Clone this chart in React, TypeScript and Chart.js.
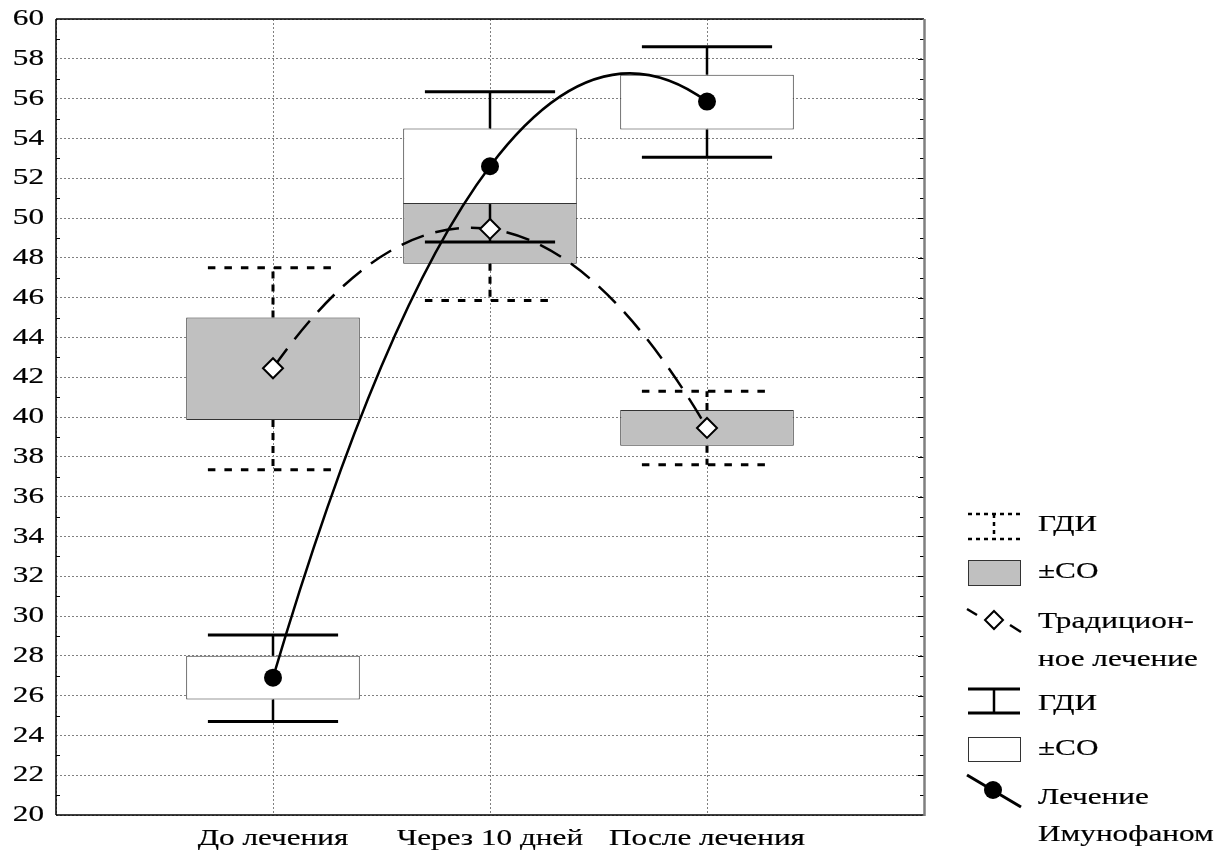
import React, { useEffect, useRef } from 'react';
import { Chart, registerables } from 'chart.js';

Chart.register(...registerables);

// ---- data ----
const categories = ['До лечения', 'Через 10 дней', 'После лечения'];
const yTickValues = [20, 22, 24, 26, 28, 30, 32, 34, 36, 38, 40, 42, 44, 46, 48, 50, 52, 54, 56, 58, 60];

// Традиционное лечение (grey boxes, dashed whiskers, diamonds)
const tradMean = [42.45, 49.45, 39.45];
const tradSdLow = [39.85, 47.7, 38.55];
const tradSdHigh = [45.0, 50.75, 40.35];
const tradCiLow = [37.35, 45.85, 37.6];
const tradCiHigh = [47.5, 53.05, 41.3];

// Лечение Имунофаном (white boxes, solid whiskers, dots)
const imMean = [26.9, 52.6, 55.85];
const imSdLow = [25.8, 50.7, 54.45];
const imSdHigh = [28.0, 54.5, 57.2];
const imCiLow = [24.7, 48.8, 53.05];
const imCiHigh = [29.05, 56.35, 58.6];

const legendLabels = ['ГДИ', '±СО', 'Традицион-', 'ное лечение', 'ГДИ', '±СО', 'Лечение', 'Имунофаном'];

// ---- style ----
const FONT = '24px "Liberation Serif"';
const STRETCH = 1.3;
const CAP = 0.3; // whisker cap half width in category units

function stretchedText(ctx: CanvasRenderingContext2D, text: string, x: number, y: number, align: CanvasTextAlign) {
  ctx.save();
  ctx.translate(x, y);
  ctx.scale(STRETCH, 1);
  ctx.font = FONT;
  ctx.fillStyle = '#000';
  ctx.strokeStyle = '#000';
  ctx.lineWidth = 0.2;
  ctx.setLineDash([]);
  ctx.textAlign = align;
  ctx.textBaseline = 'middle';
  ctx.fillText(text, 0, 0);
  ctx.strokeText(text, 0, 0);
  ctx.restore();
}

function line(ctx: CanvasRenderingContext2D, x1: number, y1: number, x2: number, y2: number) {
  ctx.beginPath();
  ctx.moveTo(x1, y1);
  ctx.lineTo(x2, y2);
  ctx.stroke();
}

function drawWhiskers(chart: any, low: number[], high: number[], sdLow: number[], sdHigh: number[], dashed: boolean) {
  const ctx: CanvasRenderingContext2D = chart.ctx;
  const xs = chart.scales.x;
  const ys = chart.scales.y;
  ctx.save();
  ctx.strokeStyle = '#000';
  ctx.lineCap = 'butt';
  for (let i = 0; i < categories.length; i++) {
    const cx = xs.getPixelForValue(i);
    const xl = xs.getPixelForValue(i - CAP);
    const xr = xs.getPixelForValue(i + CAP);
    const yLo = ys.getPixelForValue(low[i]);
    const yHi = ys.getPixelForValue(high[i]);
    const yBoxLo = ys.getPixelForValue(sdLow[i]);
    const yBoxHi = ys.getPixelForValue(sdHigh[i]);
    ctx.lineWidth = dashed ? 3 : 2.5;
    ctx.setLineDash(dashed ? [7, 6] : []);
    line(ctx, cx, yBoxHi, cx, yHi);
    line(ctx, cx, yBoxLo, cx, yLo);
    ctx.lineWidth = 3;
    ctx.setLineDash(dashed ? [7.5, 9] : []);
    line(ctx, xl, yHi, xr, yHi);
    line(ctx, xl, yLo, xr, yLo);
  }
  ctx.restore();
}

function drawParabola(chart: any, means: number[], dash: number[]) {
  const ctx: CanvasRenderingContext2D = chart.ctx;
  const xs = chart.scales.x;
  const ys = chart.scales.y;
  const p0 = { x: xs.getPixelForValue(0), y: ys.getPixelForValue(means[0]) };
  const p1 = { x: xs.getPixelForValue(1), y: ys.getPixelForValue(means[1]) };
  const p2 = { x: xs.getPixelForValue(2), y: ys.getPixelForValue(means[2]) };
  // quadratic Bezier passing through the three means
  const c = { x: 2 * p1.x - (p0.x + p2.x) / 2, y: 2 * p1.y - (p0.y + p2.y) / 2 };
  ctx.save();
  ctx.strokeStyle = '#000';
  ctx.lineWidth = 2.5;
  ctx.setLineDash(dash);
  ctx.beginPath();
  ctx.moveTo(p0.x, p0.y);
  ctx.quadraticCurveTo(c.x, c.y, p2.x, p2.y);
  ctx.stroke();
  ctx.restore();
}

const customPlugin = {
  id: 'custom',
  beforeDatasetsDraw(chart: any) {
    const ctx: CanvasRenderingContext2D = chart.ctx;
    const a = chart.chartArea;
    const ys = chart.scales.y;
    ctx.save();
    ctx.strokeStyle = '#000';
    ctx.lineWidth = 1;
    for (let v = 21; v < 60; v++) {
      const y = Math.round(ys.getPixelForValue(v)) + 0.5;
      if (v % 2 === 1) {
        line(ctx, a.left, y, a.left + 4, y);
        line(ctx, a.right - 4, y, a.right, y);
      } else {
        line(ctx, a.right - 6, y, a.right, y);
      }
    }
    ctx.lineWidth = 1.5;
    ctx.strokeStyle = '#000';
    line(ctx, a.left, a.top, a.right, a.top);
    line(ctx, a.left, a.top, a.left, a.bottom);
    line(ctx, a.left, a.bottom, a.right, a.bottom);
    ctx.strokeStyle = '#7f7f7f';
    ctx.lineWidth = 2.5;
    line(ctx, a.right + 0.5, a.top, a.right + 0.5, a.bottom + 1);
    ctx.restore();
  },
  beforeDatasetDraw(chart: any, args: any) {
    if (args.index === 0) drawWhiskers(chart, tradCiLow, tradCiHigh, tradSdLow, tradSdHigh, true);
    if (args.index === 2) drawParabola(chart, tradMean, [24, 12]);
    if (args.index === 3) drawParabola(chart, imMean, []);
  },
  afterDatasetDraw(chart: any, args: any) {
    if (args.index === 1) drawWhiskers(chart, imCiLow, imCiHigh, imSdLow, imSdHigh, false);
  },
  afterDraw(chart: any) {
    const ctx: CanvasRenderingContext2D = chart.ctx;
    const a = chart.chartArea;
    const xs = chart.scales.x;
    const ys = chart.scales.y;
    yTickValues.forEach((v) => stretchedText(ctx, String(v), a.left - 12, ys.getPixelForValue(v), 'right'));
    categories.forEach((c, i) => stretchedText(ctx, c, xs.getPixelForValue(i), a.bottom + 24, 'center'));

    ctx.save();
    ctx.strokeStyle = '#000';
    const L = 968, R = 1020, M = 994, TX = 1038;
    // 1: dashed whisker
    ctx.lineWidth = 2.5;
    ctx.setLineDash([4, 4]);
    line(ctx, L, 514, R, 514);
    line(ctx, L, 539, R, 539);
    line(ctx, M, 514, M, 539);
    ctx.setLineDash([]);
    stretchedText(ctx, legendLabels[0], TX, 525, 'left');
    // 2: grey box
    ctx.fillStyle = '#c0c0c0';
    ctx.fillRect(L, 560, R - L, 25);
    ctx.lineWidth = 1;
    ctx.strokeStyle = '#333';
    ctx.strokeRect(L + 0.5, 560.5, R - L, 25);
    stretchedText(ctx, legendLabels[1], TX, 572, 'left');
    // 3: dashed line with diamond
    ctx.strokeStyle = '#000';
    ctx.lineWidth = 2.5;
    line(ctx, 967, 609, 977, 615);
    line(ctx, 1010, 625, 1021, 632);
    ctx.beginPath();
    ctx.moveTo(994, 611);
    ctx.lineTo(1003, 620);
    ctx.lineTo(994, 629);
    ctx.lineTo(985, 620);
    ctx.closePath();
    ctx.fillStyle = '#fff';
    ctx.fill();
    ctx.lineWidth = 2;
    ctx.stroke();
    stretchedText(ctx, legendLabels[2], TX, 622, 'left');
    stretchedText(ctx, legendLabels[3], TX, 660, 'left');
    // 4: solid whisker
    ctx.lineWidth = 3;
    line(ctx, L, 689, R, 689);
    line(ctx, L, 713, R, 713);
    ctx.lineWidth = 2.5;
    line(ctx, M, 689, M, 713);
    stretchedText(ctx, legendLabels[4], TX, 704, 'left');
    // 5: white box
    ctx.fillStyle = '#fff';
    ctx.fillRect(L, 737, R - L, 24);
    ctx.lineWidth = 1;
    ctx.strokeStyle = '#333';
    ctx.strokeRect(L + 0.5, 737.5, R - L, 24);
    stretchedText(ctx, legendLabels[5], TX, 749, 'left');
    // 6: solid line with dot
    ctx.strokeStyle = '#000';
    ctx.lineWidth = 3;
    line(ctx, 967, 775, 1021, 807);
    ctx.fillStyle = '#000';
    ctx.beginPath();
    ctx.arc(993, 790, 9, 0, Math.PI * 2);
    ctx.fill();
    stretchedText(ctx, legendLabels[6], TX, 798, 'left');
    stretchedText(ctx, legendLabels[7], TX, 835, 'left');
    ctx.restore();
  },
};

export default function App() {
  const canvasRef = useRef<HTMLCanvasElement | null>(null);

  useEffect(() => {
    const canvas = canvasRef.current;
    if (!canvas) return;
    const chart = new Chart(canvas, {
      data: {
        datasets: [
          {
            type: 'bar',
            label: 'imSD',
            data: categories.map((_, i) => ({ x: i, y: [imSdLow[i], imSdHigh[i]] })) as any,
            backgroundColor: '#ffffff',
            borderColor: '#333333',
            borderWidth: 1,
            borderSkipped: false,
            grouped: false,
            categoryPercentage: 1,
            barPercentage: 0.8,
            order: 5,
          } as any,
          {
            type: 'bar',
            label: 'tradSD',
            data: categories.map((_, i) => ({ x: i, y: [tradSdLow[i], tradSdHigh[i]] })) as any,
            backgroundColor: '#c0c0c0',
            borderColor: '#333333',
            borderWidth: 1,
            borderSkipped: false,
            grouped: false,
            categoryPercentage: 1,
            barPercentage: 0.8,
            order: 4,
          } as any,
          {
            type: 'line',
            label: 'trad',
            data: tradMean.map((v, i) => ({ x: i, y: v })),
            showLine: false,
            pointStyle: 'rectRot',
            pointRadius: 10,
            pointBackgroundColor: '#ffffff',
            pointBorderColor: '#000000',
            pointBorderWidth: 2,
            order: 2,
          } as any,
          {
            type: 'line',
            label: 'im',
            data: imMean.map((v, i) => ({ x: i, y: v })),
            showLine: false,
            pointStyle: 'circle',
            pointRadius: 9,
            pointBackgroundColor: '#000000',
            pointBorderColor: '#000000',
            pointBorderWidth: 0,
            order: 1,
          } as any,
        ],
      },
      options: {
        responsive: false,
        animation: false,
        layout: { padding: { left: 56, right: 307, top: 19, bottom: 46 } },
        plugins: { legend: { display: false }, tooltip: { enabled: false } },
        scales: {
          x: {
            type: 'linear',
            min: -1,
            max: 3,
            offset: false,
            ticks: { display: false, stepSize: 1 },
            grid: { drawTicks: false, offset: false, color: '#808080', lineWidth: 1 },
            border: { display: false, dash: [2, 2] },
          },
          y: {
            type: 'linear',
            min: 20,
            max: 60,
            ticks: { display: false, stepSize: 2 },
            grid: { drawTicks: false, color: '#808080', lineWidth: 1 },
            border: { display: false, dash: [2, 2] },
          },
        },
      } as any,
      plugins: [customPlugin],
    });
    let alive = true;
    if ((document as any).fonts && (document as any).fonts.load) {
      (document as any).fonts.load(FONT, 'ДоЧерез10').then(() => {
        if (alive) chart.draw();
      }).catch(() => {});
    }
    return () => {
      alive = false;
      chart.destroy();
    };
  }, []);

  return (
    <div style={{ position: 'fixed', left: 0, top: 0, width: 1231, height: 861, background: '#fff' }}>
      <span style={{ position: 'absolute', left: -9999, fontFamily: '"Liberation Serif"' }}>До</span>
      <canvas ref={canvasRef} width={1231} height={861} style={{ display: 'block' }} />
    </div>
  );
}
